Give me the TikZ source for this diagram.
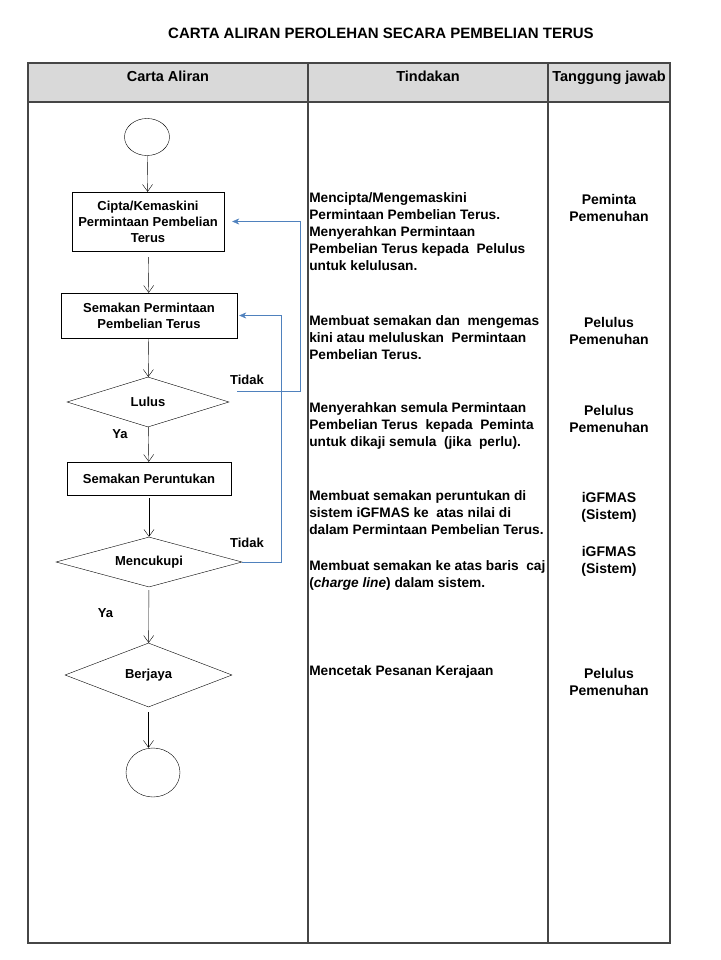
\documentclass[tikz,border=0pt]{standalone}
\usepackage{fontspec}
\setmainfont{Liberation Sans}
\usetikzlibrary{shapes.geometric, arrows.meta}

\definecolor{hdrgray}{RGB}{217,217,217}
\definecolor{gridgray}{RGB}{70,70,70}
\definecolor{backblue}{RGB}{79,129,189}

\begin{document}
\begin{tikzpicture}[x=1pt, y=-1pt, semithick]
	\tikzset{
	    flow/.style= {-{Straight Barb[length=7pt, width=10pt]}, thin, black},
	    back/.style= {-{Stealth[length=7pt, width=6pt]}, thin, backblue},
	    fbox/.style= {rectangle, draw, thin, align=center, inner sep=0pt, font=\fontsize{13}{16}\selectfont\bfseries},
	    fdia/.style= {diamond, aspect=3, draw, thin, inner sep=0pt, font=\fontsize{13}{16}\selectfont\bfseries},
	    fend/.style= {ellipse, draw, thin, inner sep=0pt},
	    lbl/.style= {inner sep=0pt, font=\fontsize{13}{16}\selectfont\bfseries},
	    act/.style= {anchor=north west, align=left, inner sep=0pt, font=\fontsize{13.7}{17}\selectfont\bfseries},
	    who/.style= {anchor=north, align=center, inner sep=0pt, font=\fontsize{14}{17.5}\selectfont\bfseries},
	    hdr/.style= {anchor=base, inner sep=0pt, font=\fontsize{14.5}{17}\selectfont\bfseries},
	    rule/.style= {gridgray, line width=1.3pt},
	}

	\useasboundingbox (0, 0) rectangle (720, 960);

	% title and table
	\node[hdr, font=\fontsize{15}{18}\selectfont\bfseries] (title) at (381, 38.5) {CARTA ALIRAN PEROLEHAN SECARA PEMBELIAN TERUS};
	\fill[hdrgray] (28, 63) rectangle (670, 102);
	\draw[rule] (28, 63) rectangle (670, 943);
	\draw[rule] (28, 102) -- (670, 102);
	\draw[rule] (308, 63) -- (308, 943);
	\draw[rule] (548, 63) -- (548, 943);

	\node[hdr] (h1) at (168, 82) {Carta Aliran};
	\node[hdr] (h2) at (428, 82) {Tindakan};
	\node[hdr] (h3) at (609, 82) {Tanggung jawab};

	% flow chart
	\node[fend, minimum width=45pt, minimum height=37pt] (start) at (147, 137) {};
	\node[fbox, minimum width=152pt, minimum height=59pt] (cipta) at (148, 221.5) {Cipta/Kemaskini\\Permintaan Pembelian\\Terus};
	\node[fbox, minimum width=176pt, minimum height=45pt] (semak) at (149, 315.5) {Semakan Permintaan\\Pembelian Terus};
	\node[fdia, minimum width=162pt, minimum height=50pt] (lulus) at (148, 402) {Lulus};
	\node[fbox, minimum width=164pt, minimum height=33pt] (perunt) at (149, 478.5) {Semakan Peruntukan};
	\node[fdia, minimum width=186pt, minimum height=50pt] (cukup) at (149, 562) {Mencukupi};
	\node[fdia, minimum width=167pt, minimum height=64pt] (berjaya) at (148.5, 675) {Berjaya};
	\node[fend, minimum width=54pt, minimum height=49pt] (end) at (153, 772.5) {};

	\node[lbl] (ya1) at (120, 434) {Ya};
	\node[lbl] (ya2) at (105.5, 613) {Ya};
	\node[lbl] (tidak1) at (247, 380) {Tidak};
	\node[lbl] (tidak2) at (247, 543) {Tidak};

	\draw[flow]
	(start) edge (cipta)
	(cipta) edge[shorten <=6pt] (semak)
	(semak) edge (lulus)
	(lulus) edge (perunt)
	(perunt) edge[shorten <=3pt] (cukup)
	(cukup) edge[shorten <=3pt] (berjaya);
	\draw[flow, shorten <=5pt] (berjaya.south) -- (berjaya.south |- end.north);

	\draw[back] ([shift={(8,-11)}]lulus.east) -- ++(63, 0) |- ([xshift=8pt]cipta.east);
	\draw[back] (cukup.east) -- ++(39, 0) |- ([xshift=2pt]semak.east);

	% actions
	\node[act] (a1) at (309, 192) {Mencipta/Mengemaskini\\Permintaan Pembelian Terus.\\Menyerahkan Permintaan\\Pembelian Terus kepada\ \ Pelulus\\untuk kelulusan.};
	\node[act] (a2) at (309, 315) {Membuat semakan dan\ \ mengemas\\kini atau meluluskan\ \ Permintaan\\Pembelian Terus.};
	\node[act] (a3) at (309, 402) {Menyerahkan semula Permintaan\\Pembelian Terus\ \ kepada\ \ Peminta\\untuk dikaji semula\ \ (jika\ \ perlu).};
	\node[act] (a4) at (309, 490) {Membuat semakan peruntukan di\\sistem iGFMAS ke\ \ atas nilai di\\dalam Permintaan Pembelian Terus.};
	\node[act] (a5) at (309, 560) {Membuat semakan ke atas baris\ \ caj\\(\textit{charge line}) dalam sistem.};
	\node[act] (a6) at (309, 665) {Mencetak Pesanan Kerajaan};

	% responsibility
	\node[who] (w1) at (609, 194) {Peminta\\Pemenuhan};
	\node[who] (w2) at (609, 317) {Pelulus\\Pemenuhan};
	\node[who] (w3) at (609, 405) {Pelulus\\Pemenuhan};
	\node[who] (w4) at (609, 492) {iGFMAS\\(Sistem)};
	\node[who] (w5) at (609, 546) {iGFMAS\\(Sistem)};
	\node[who] (w6) at (609, 668) {Pelulus\\Pemenuhan};
\end{tikzpicture}
\end{document}
